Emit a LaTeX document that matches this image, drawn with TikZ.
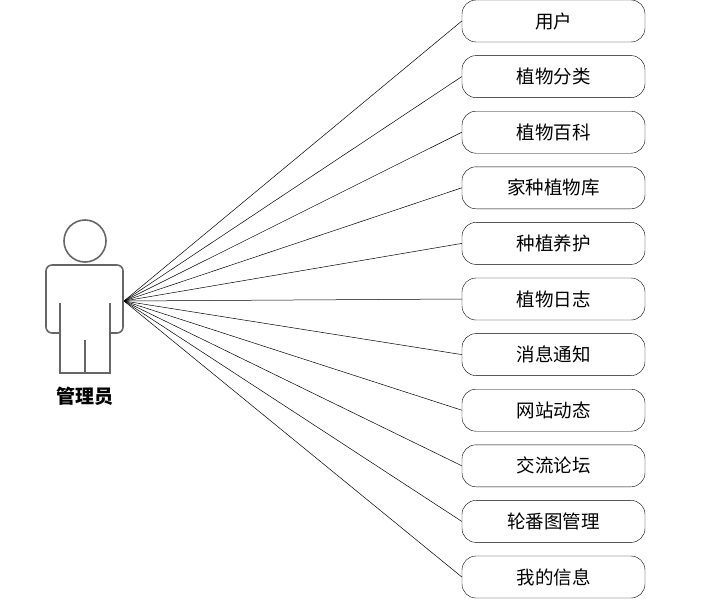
\documentclass[tikz,border=0pt]{standalone}
\usepackage{fontspec}
\setmainfont{Noto Sans CJK SC}
\begin{document}
\begin{tikzpicture}[x=1pt,y=-1pt,
  usecase/.style={draw=black,rounded corners=14pt,minimum width=183pt,minimum height=42pt,font=\fontsize{18.5}{20}\selectfont,inner sep=0pt},
  conn/.style={draw=black,line width=0.5pt},
  actorline/.style={draw=black!60,line width=1.6pt}]
\useasboundingbox (0,0) rectangle (714,602);
\coordinate (hand) at (124,301);
\foreach \t [count=\i] in {用户,植物分类,植物百科,家种植物库,种植养护,植物日志,消息通知,网站动态,交流论坛,轮番图管理,我的信息}{
  \node[usecase] (u\i) at (553.5,{21+55.6*(\i-1)}) {\t};
  \draw[conn] (hand) -- (u\i.west);
}
% actor
\draw[actorline] (85,241) circle (21);
\draw[actorline,rounded corners=6pt] (60,333) -- (46,333) -- (46,265) -- (123,265) -- (123,333) -- (110,333);
\draw[actorline] (60,303) -- (60,373) -- (110,373) -- (110,303);
\draw[actorline] (85,340) -- (85,373);
\node[font=\fontsize{19}{21}\selectfont\bfseries] (lbl) at (85,396) {管理员};
\end{tikzpicture}
\end{document}
